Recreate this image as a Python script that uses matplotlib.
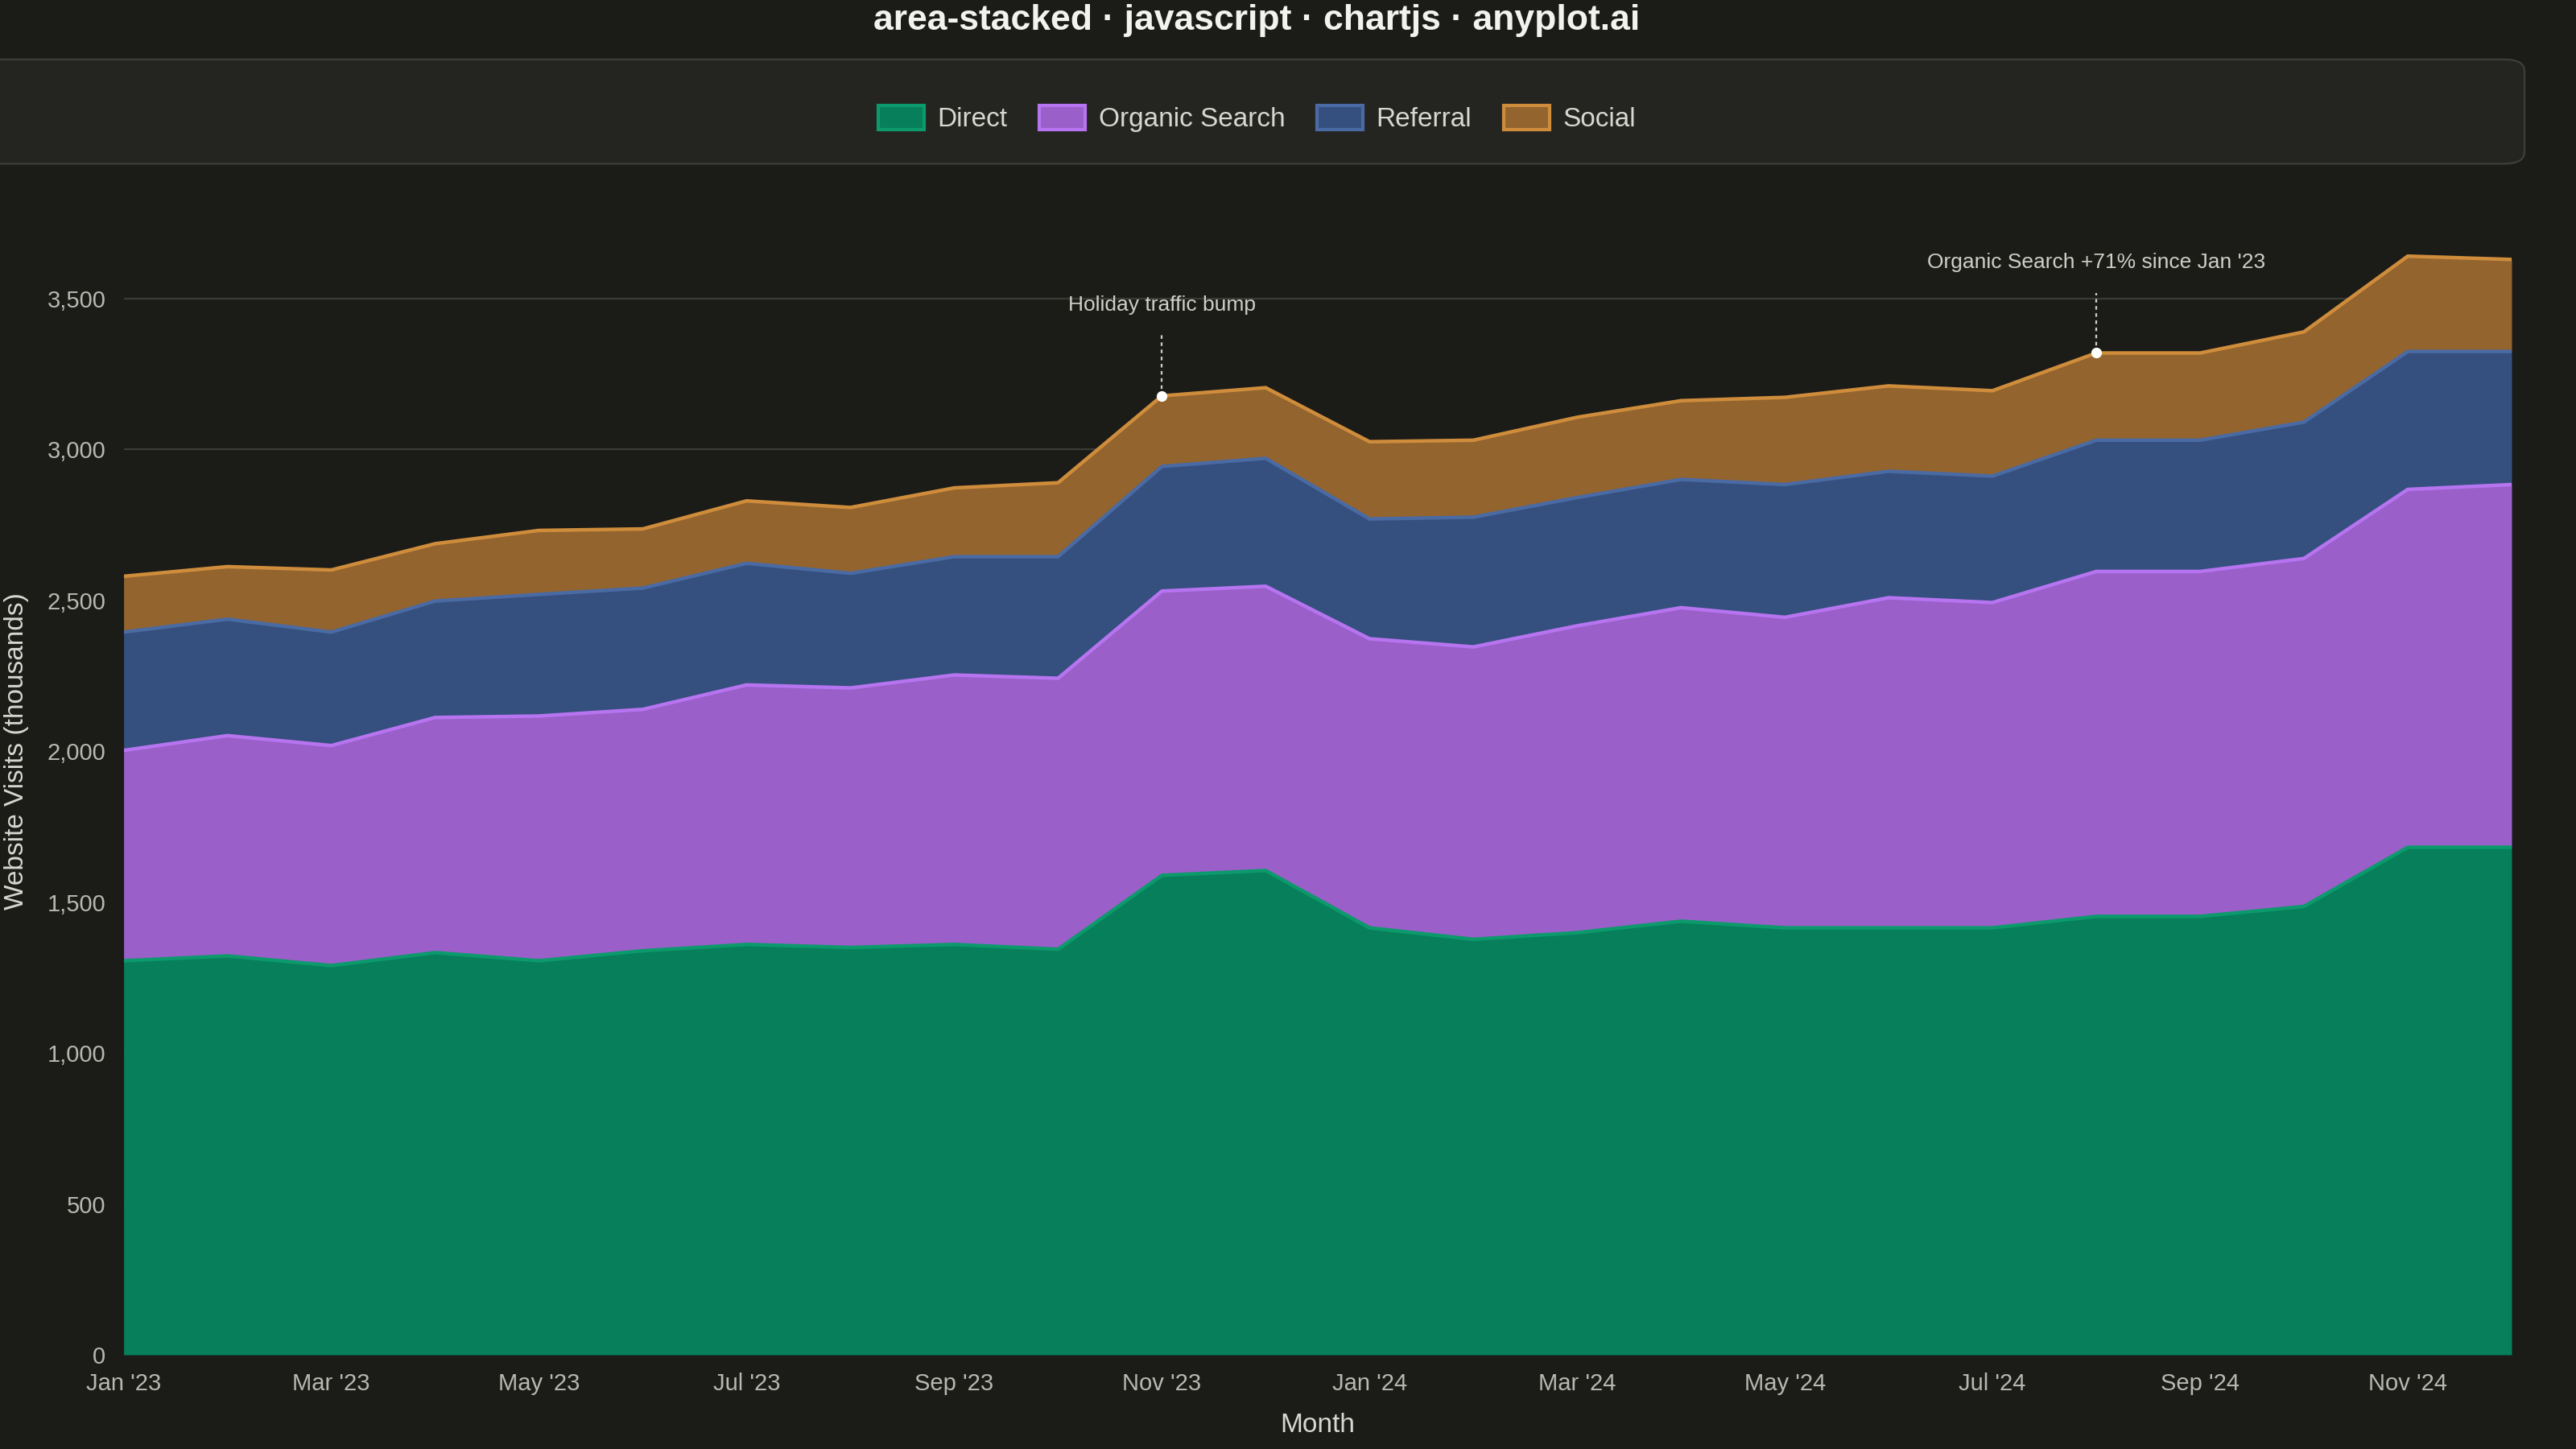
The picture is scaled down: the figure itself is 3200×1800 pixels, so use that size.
import matplotlib.pyplot as plt
import numpy as np
from matplotlib.patches import FancyBboxPatch, Patch

plt.rcParams['font.family'] = ['Liberation Sans', 'DejaVu Sans']

months = ["Jan '23", "Feb '23", "Mar '23", "Apr '23", "May '23", "Jun '23", "Jul '23", "Aug '23",
          "Sep '23", "Oct '23", "Nov '23", "Dec '23", "Jan '24", "Feb '24", "Mar '24", "Apr '24",
          "May '24", "Jun '24", "Jul '24", "Aug '24", "Sep '24", "Oct '24", "Nov '24", "Dec '24"]
direct = [1306, 1322, 1290, 1333, 1306, 1339, 1360, 1350, 1360, 1344, 1589, 1605,
          1415, 1377, 1399, 1437, 1415, 1415, 1415, 1453, 1453, 1486, 1682, 1682]
organic = [697, 730, 729, 779, 811, 800, 860, 860, 893, 898, 942, 942,
           958, 969, 1017, 1039, 1029, 1094, 1078, 1143, 1143, 1153, 1186, 1202]
referral = [392, 386, 376, 386, 403, 402, 403, 380, 392, 403, 413, 424,
            397, 430, 425, 425, 440, 419, 419, 435, 435, 452, 457, 441]
social = [185, 174, 206, 190, 212, 196, 207, 218, 228, 245, 234, 234,
          256, 255, 266, 261, 289, 283, 283, 289, 289, 299, 316, 305]

names = ["Direct", "Organic Search", "Referral", "Social"]
fills = ["#077f5a", "#9a5fc8", "#35507e", "#93642e"]
lines = ["#0c9a6c", "#b774f0", "#4a6aa4", "#cf8d3c"]

bg = "#1b1b18"
txt = "#d8d8d2"
fig = plt.figure(figsize=(16, 9), dpi=200, facecolor=bg)
ax = fig.add_axes([0.048, 0.065, 0.927, 0.833], facecolor=bg)

x = np.arange(len(months))
series = [direct, organic, referral, social]
base = np.zeros(len(x))
for vals, f, l in zip(series, fills, lines):
    top = base + np.array(vals)
    ax.fill_between(x, base, top, color=f, lw=0, zorder=2)
    ax.plot(x, top, color=l, lw=1.6, zorder=3)
    base = top
total = base

ax.set_xlim(0, len(x) - 1)
ax.set_ylim(0, 4000)
ax.set_yticks(range(0, 4001, 500))
ax.set_yticklabels([f"{v:,}" for v in range(0, 4001, 500)])
ax.set_xticks(x[::2])
ax.set_xticklabels(months[::2])
ax.grid(axis='y', color='#3a3a36', lw=0.8, zorder=1)
ax.tick_params(colors="#b8b8b2", labelsize=10.5, length=0, pad=8)
for s in ax.spines.values():
    s.set_visible(False)
ax.set_xlabel("Month", color=txt, fontsize=12, labelpad=8)
ax.set_ylabel("Website Visits (thousands)", color=txt, fontsize=12, labelpad=8)

# annotations
for i, label, ty in [(10, "Holiday traffic bump", 3480), (19, "Organic Search +71% since Jan '23", 3620)]:
    ax.plot([i, i], [total[i], ty - 100], ls=(0, (2, 2)), color="#cfcfc8", lw=0.8, zorder=4)
    ax.scatter([i], [total[i]], s=14, color="white", zorder=5)
    ax.text(i, ty, label, ha='center', va='center', color="#cfcfc8", fontsize=9.5)

# legend box
box = FancyBboxPatch((-0.01, 0.887), 0.99, 0.072, boxstyle="round,pad=0,rounding_size=0.008",
                     transform=fig.transFigure, facecolor="#242421", edgecolor="#3e3e3a", lw=0.8, zorder=0)
fig.patches.append(box)
handles = [Patch(facecolor=f, edgecolor=l, lw=1.5) for f, l in zip(fills, lines)]
fig.legend(handles, names, loc='center', bbox_to_anchor=(0.488, 0.918), ncol=4, frameon=False,
           fontsize=12, labelcolor=txt, handlelength=1.7, handleheight=1.0, columnspacing=1.2, handletextpad=0.5)

fig.text(0.488, 0.986, "area-stacked · javascript · chartjs · anyplot.ai", ha='center', va='center',
         color="#f2f2ee", fontsize=16, fontweight='bold')

fig.savefig("out.png", dpi=200, facecolor=bg)
